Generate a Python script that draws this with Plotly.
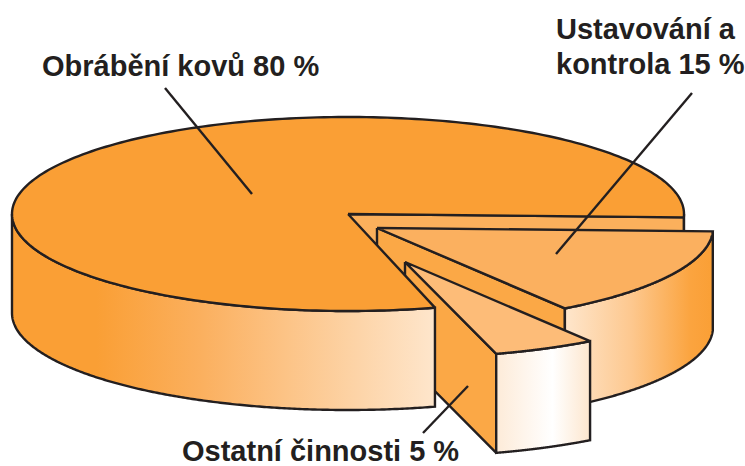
import numpy as np
import plotly.graph_objects as go

# --- data -------------------------------------------------------------
categories = ["Obrábění kovů", "Ostatní činnosti", "Ustavování a kontrola"]
shares = [80, 5, 15]

# --- styling / projection ---------------------------------------------
W, H = 745, 466
START_DEG = -2.0
MAIN_TRIM_DEG = 1.0
RX, RY, DEPTH = 336.0, 97.0, 99.0
APEX = [(348.0, 214.0), (405.0, 262.0), (377.0, 228.0)]
RADIUS = [1.0, 0.985, 1.0]
INK = "#231F20"
LW = 2.4
ORANGE = "#FA9F35"
FACE = "#FBA846"
STRIP = "#FBB05C"
TOPS = [ORANGE, "#FDBC78", "#FBB05F"]


def ramp(stops):
    return dict(type="horizontal", colorscale=stops)


MAIN_WALL = ramp([[0, ORANGE], [0.2, ORANGE], [0.45, "#FBB05F"], [1, "#FEE6CC"]])
ARC_WALL = ramp([[0, "#FEE6CC"], [0.45, "#FDC88F"], [0.85, "#FBA43F"], [1, ORANGE]])
SMALL_WALL = ramp([[0, "#FDEBD8"], [0.6, "#FFFFFF"], [1, "#FDE6CE"]])

# angular extent of each slice, from the shares
fractions = np.array(shares, dtype=float) / sum(shares) * 360.0
edges = START_DEG + np.concatenate([[0.0], np.cumsum(fractions)])
spans = list(zip(edges[:-1], edges[1:]))


def rim(i, a0, a1, n=240):
    t = np.radians(np.linspace(a0, a1, n))
    cx, cy = APEX[i]
    r = RADIUS[i]
    return cx + RX * r * np.cos(t), cy - RY * r * np.sin(t)


fig = go.Figure()


def poly(xs, ys, fill=None, gradient=None):
    kw = dict(fillgradient=gradient) if gradient else dict(fillcolor=fill)
    fig.add_trace(go.Scatter(
        x=list(xs), y=list(ys), mode="lines", fill="toself",
        line=dict(color=INK, width=LW, simplify=False),
        hoverinfo="skip", showlegend=False, **kw))


def cut_face(i, a, fill):
    x, y = rim(i, a, a, 1)
    cx, cy = APEX[i]
    poly([cx, x[0], x[0], cx, cx], [cy, y[0], y[0] + DEPTH, cy + DEPTH, cy], fill=fill)


def wall(i, a0, a1, gradient=None, fill=None):
    x, y = rim(i, a0, a1)
    poly(np.r_[x, x[::-1], x[0]], np.r_[y, y[::-1] + DEPTH, y[0]], fill=fill, gradient=gradient)


def top(i, a0, a1, fill):
    x, y = rim(i, a0, a1)
    cx, cy = APEX[i]
    poly(np.r_[cx, x, cx], np.r_[cy, y, cy], fill=fill)


main, small, arc = 0, 1, 2
main_end = spans[main][1] - MAIN_TRIM_DEG

# inner faces of the notch in the large slice
wall(main, spans[main][0], 0.0, fill=ORANGE)
cut_face(main, spans[main][0], STRIP)

# 15 % slice
cut_face(arc, spans[arc][0], FACE)
wall(arc, spans[arc][0], spans[arc][1], gradient=ARC_WALL)
top(arc, spans[arc][0], spans[arc][1], TOPS[arc])

# 5 % slice
cut_face(small, spans[small][0], FACE)
wall(small, spans[small][0], spans[small][1], gradient=SMALL_WALL)
top(small, spans[small][0], spans[small][1], TOPS[small])

# 80 % slice, in front of the other two
wall(main, 180.0, main_end, gradient=MAIN_WALL)
top(main, spans[main][0], main_end, ORANGE)

# leader lines
leaders = [((165, 88), (252, 194)), ((692, 93), (556, 254)), ((423, 433), (468, 386))]
for (x0, y0), (x1, y1) in leaders:
    fig.add_shape(type="line", x0=x0, y0=y0, x1=x1, y1=y1,
                  line=dict(color=INK, width=LW), layer="above")

# labels
font = dict(family="Liberation Sans", size=29, color=INK)
labels = [
    (f"<b>{categories[0]} {shares[0]} %</b>", 40, 66),
    ("<b>Ustavování a</b>", 554, 29),
    (f"<b>kontrola {shares[2]} %</b>", 554, 64),
    (f"<b>{categories[1]} {shares[1]} %</b>", 180, 451),
]
for text, x, y in labels:
    fig.add_annotation(x=x, y=y, text=text, showarrow=False, xanchor="left",
                       yanchor="middle", font=font)

fig.update_layout(
    width=W, height=H, margin=dict(l=0, r=0, t=0, b=0),
    paper_bgcolor="white", plot_bgcolor="white", showlegend=False,
    xaxis=dict(range=[0, W], visible=False, fixedrange=True),
    yaxis=dict(range=[H, 0], visible=False, fixedrange=True),
)

fig.write_html("out.html", config=dict(displayModeBar=False),
               post_script="document.body.style.margin='0';")
